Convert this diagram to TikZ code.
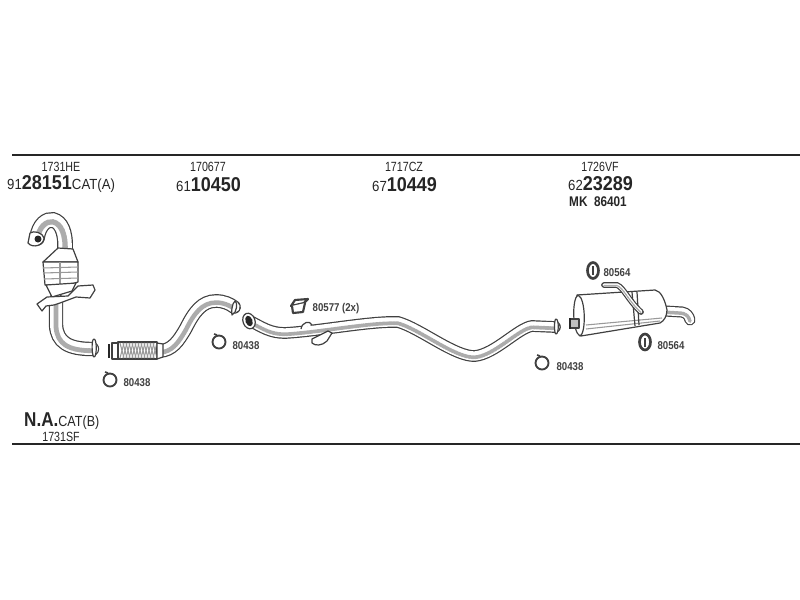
\documentclass[tikz,border=0pt]{standalone}
\usepackage{fontspec}
\setmainfont{Liberation Sans}
\usetikzlibrary{calc}
\newcommand{\bignum}[1]{{\fontsize{15pt}{16pt}\bfseries\selectfont #1}}
\tikzset{
  SmallText/.style={inner sep=0pt,xscale=0.8,font=\fontsize{10pt}{12pt}\selectfont,text=black!85},
  NumText/.style={inner sep=0pt,anchor=west,xscale=0.9,font=\fontsize{11pt}{12pt}\selectfont,text=black!85},
  TinyText/.style={inner sep=0pt,xscale=0.85,font=\fontsize{8.5pt}{10pt}\bfseries\selectfont,text=black!75},
  Rule/.style={line width=1.7pt,black!85},
  Pipe/.style={draw=black!75,double=white,double distance=#1,line width=0.9pt,line cap=round,
    postaction={draw=gray!65,double=none,line width=0.4*#1,dash pattern=on 2pt off 0.6pt,transform canvas={yshift=-0.14*#1}}},
  Part/.style={draw=black!75,line width=0.9pt,fill=white,line join=round},
  Shade/.style={gray!80,line width=0.8pt},
  Clamp/.style={draw=black!75,line width=1.4pt,fill=white}
}
\begin{document}
\begin{tikzpicture}[x=0.75pt,y=-0.75pt]
  \useasboundingbox[fill=white] (0,0) rectangle (800,600);

  \draw[Rule] (12,155) -- (800,155);
  \draw[Rule] (12,444) -- (800,444);

  \node[SmallText] (ref_a) at (61,167) {1731HE};
  \node[NumText] (no_a) at (7,184) {91\bignum{28151}CAT(A)};
  \node[SmallText] (ref_b) at (208,167) {170677};
  \node[NumText] (no_b) at (176,185) {61\bignum{10450}};
  \node[SmallText] (ref_c) at (404,167) {1717CZ};
  \node[NumText] (no_c) at (372,185) {67\bignum{10449}};
  \node[SmallText] (ref_d) at (600,167) {1726VF};
  \node[NumText] (no_d) at (568,184) {62\bignum{23289}};
  \node[SmallText,xscale=1.05,font=\fontsize{10.5pt}{12pt}\bfseries\selectfont] (mk_d) at (598,202) {MK\ \ 86401};
  \node[NumText,xscale=0.95] (no_e) at (24,421) {\bignum{N.A.}CAT(B)};
  \node[SmallText] (ref_e) at (61,437) {1731SF};

  %front pipe and cat
  \draw[Pipe=10pt] (37,238) .. controls (39,224) and (47,219) .. (53,220)
    .. controls (61,222) and (66,232) .. (65,250);
  \draw[Part] (30,233) .. controls (34,230) and (43,233) .. (44,238)
    .. controls (44,245) and (33,249) .. (28,243) -- cycle;
  \fill[black!85] (38,239) circle (3.5);
  \draw[Part] (58,248) -- (73,249) -- (78,262) -- (43,262) -- cycle;
  \draw[Part] (43,262) -- (78,262) -- (78,282) -- (68,285) -- (45,285) -- cycle;
  \draw[Shade] (43,268) -- (78,267);
  \draw[Shade] (43,273) -- (78,272);
  \draw[Shade] (44,279) -- (78,278);
  \draw[Shade] (60,262) -- (60,285);
  \draw[Pipe=9pt] (56,300) -- (56,325) .. controls (57,342) and (68,349) .. (92,349);
  \draw[Part] (46,285) -- (76,283) -- (72,291) -- (52,297) -- cycle;
  \draw[Part] (37,304) -- (47,297) -- (68,296) -- (78,286) -- (93,285) -- (95,290) -- (90,298)
    -- (76,297) -- (60,303) -- (54,305) -- (46,306) -- (42,311) -- cycle;
  \draw[Part] (94,339) .. controls (97,339) and (97,357) .. (94,357)
    .. controls (92,357) and (91,339) .. (94,339) -- cycle;

  %flex pipe
  \draw[Pipe=8.5pt] (160,351) .. controls (172,350) and (178,342) .. (186,328)
    .. controls (194,312) and (202,301) .. (216,301) .. controls (224,301) and (230,304) .. (234,307);
  \draw[Part] (235,301) .. controls (238,302) and (237,313) .. (232,315)
    .. controls (231,313) and (232,303) .. (235,301) -- cycle;
  \draw[Part] (118,342) rectangle (157,359);
  \foreach \i in {120,123,...,153} {
    \draw[Shade] (\i,343) -- (\i+4,358);
    \draw[Shade] (\i+4,343) -- (\i,358);
  }
  \draw[Part] (157,343) -- (163,344) -- (163,357) -- (157,359) -- cycle;
  \draw[Part] (112,343) rectangle (118,359);
  \draw[black!85,line width=2pt] (109,344) -- (109,358);

  %middle pipe
  \draw[Pipe=7pt] (250,321) .. controls (262,327) and (270,333) .. (285,333)
    .. controls (320,331) and (370,321) .. (398,322) .. controls (420,328) and (455,357) .. (475,356)
    .. controls (495,354) and (518,328) .. (532,326) -- (555,327);
  \draw[Part] (301,329) .. controls (302,322) and (310,320) .. (312,325);
  \draw[Part] (312,339) -- (328,331) -- (332,333) -- (327,341)
    .. controls (322,346) and (315,346) .. (312,343) -- cycle;
  \draw[Part,rotate around={20:(249,321)}] (249,321) ellipse (6 and 8);
  \fill[black!85,rotate around={20:(249,321)}] (249,321) ellipse (3.5 and 5.5);
  \draw[Part] (556,319) .. controls (559,319) and (559,334) .. (556,334)
    .. controls (554,334) and (554,319) .. (556,319) -- cycle;

  %muffler
  \draw[Pipe=6.5pt] (665,311) -- (682,312) .. controls (687,313) and (689,316) .. (690,320);
  \draw[Part] (577,295) -- (655,290) .. controls (661,291) and (665,300) .. (667,310)
    .. controls (667,316) and (664,321) .. (660,323) -- (581,336) -- cycle;
  \draw[Part] (578,295) .. controls (572,298) and (572,332) .. (580,336)
    .. controls (586,334) and (586,298) .. (578,295) -- cycle;
  \draw[Shade] (586,325) -- (662,318);
  \draw[Shade] (586,329) -- (660,321);
  \draw[Part] (632,292) -- (635,326);
  \draw[Part] (637,292) -- (639,325);
  \draw[Pipe=2.5pt] (604,285) -- (617,285) .. controls (624,288) and (628,300) .. (641,312);
  \draw[Part,fill=gray!50] (570,319) rectangle (579,328);
  \draw[black!85,line width=2pt] (570,318) -- (570,329);

  %brackets and mounts
  \draw[Clamp] (219,342) circle (6.5);
  \draw[Clamp] (110,380) circle (6.5);
  \draw[Clamp] (542,363) circle (6.5);
  \draw[black!75,line width=1.2pt] (105,372) -- (108,373);
  \draw[black!75,line width=1.2pt] (214,334) -- (217,335);
  \draw[black!75,line width=1.2pt] (537,355) -- (540,356);
  \node[TinyText] (clamp_a) at (137,383) {80438};
  \node[TinyText] (clamp_b) at (246,346) {80438};
  \node[TinyText] (clamp_c) at (570,367) {80438};

  \draw[Part,line width=1.6pt] (291,306) -- (304,303) -- (308,299) -- (295,300) -- cycle;
  \draw[Part,line width=1.6pt] (292,306) -- (293,313) -- (303,312) -- (305,303);
  \node[TinyText] (bracket_a) at (336,309) {80577 (2x)};

  \draw[Clamp,line width=2pt] (593,270.5) ellipse (5.5 and 8);
  \draw[black!75,line width=1.2pt] (593,266) -- (593,275);
  \draw[Clamp,line width=2pt] (645,342) ellipse (5.5 and 8);
  \draw[black!75,line width=1.2pt] (645,338) -- (645,347);
  \node[TinyText] (mount_a) at (617,273) {80564};
  \node[TinyText] (mount_b) at (671,346) {80564};
\end{tikzpicture}
\end{document}
